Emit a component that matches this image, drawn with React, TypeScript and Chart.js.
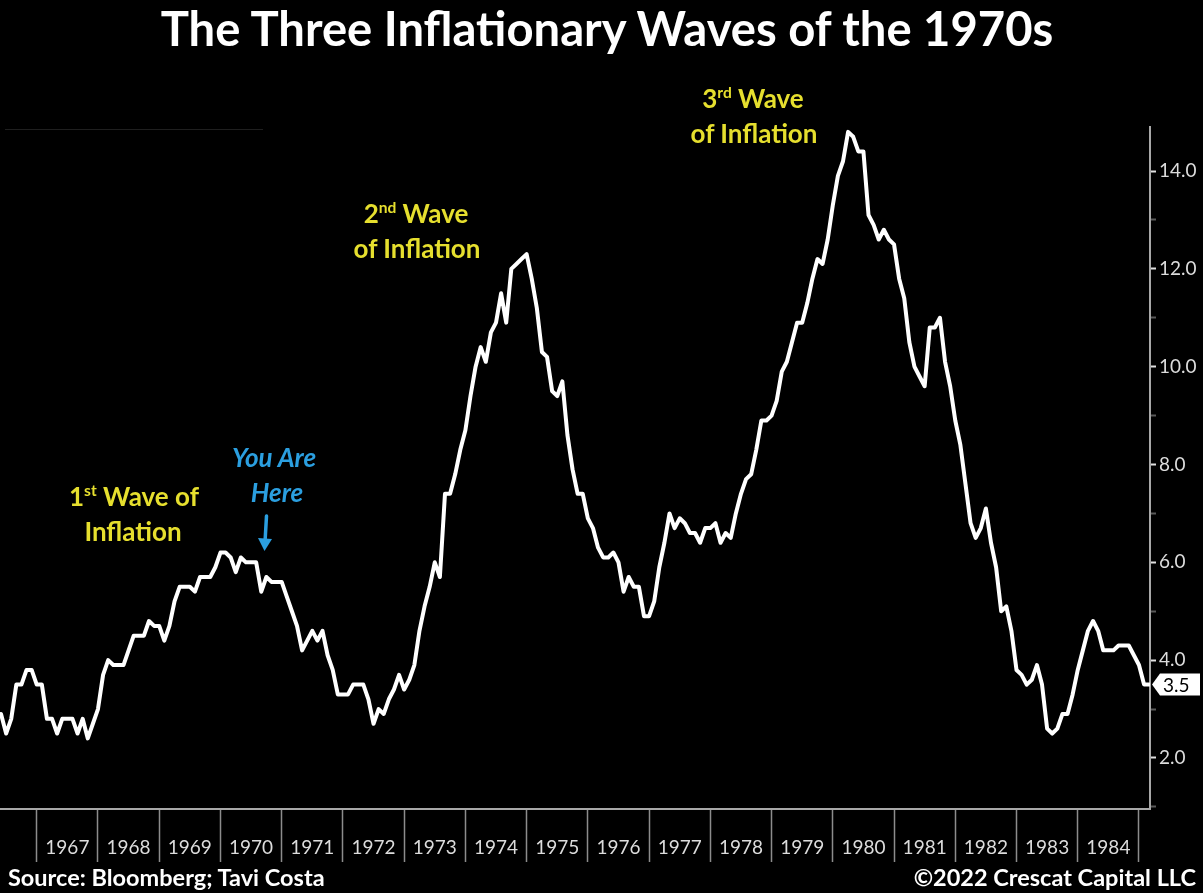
import React, { useEffect, useRef } from "react";
import { Chart, registerables } from "chart.js";

Chart.register(...registerables);

const FONT = "Lato, 'Liberation Sans', sans-serif";

// US CPI YoY %, monthly (series starts May 1966, ends Feb 1985)
const firstYear = 1966;
const firstMonth = 5;
const cpi1966 = [2.9, 2.5, 2.8, 3.5, 3.5, 3.8, 3.8, 3.5];
const cpi1967 = [3.5, 2.8, 2.8, 2.5, 2.8, 2.8, 2.8, 2.5, 2.8, 2.4, 2.7, 3.0];
const cpi1968 = [3.7, 4.0, 3.9, 3.9, 3.9, 4.2, 4.5, 4.5, 4.5, 4.8, 4.7, 4.7];
const cpi1969 = [4.4, 4.7, 5.2, 5.5, 5.5, 5.5, 5.4, 5.7, 5.7, 5.7, 5.9, 6.2];
const cpi1970 = [6.2, 6.1, 5.8, 6.1, 6.0, 6.0, 6.0, 5.4, 5.7, 5.6, 5.6, 5.6];
const cpi1971 = [5.3, 5.0, 4.7, 4.2, 4.4, 4.6, 4.4, 4.6, 4.1, 3.8, 3.3, 3.3];
const cpi1972 = [3.3, 3.5, 3.5, 3.5, 3.2, 2.7, 3.0, 2.9, 3.2, 3.4, 3.7, 3.4];
const cpi1973 = [3.6, 3.9, 4.6, 5.1, 5.5, 6.0, 5.7, 7.4, 7.4, 7.8, 8.3, 8.7];
const cpi1974 = [9.4, 10.0, 10.4, 10.1, 10.7, 10.9, 11.5, 10.9, 12.0, 12.1, 12.2, 12.3];
const cpi1975 = [11.8, 11.2, 10.3, 10.2, 9.5, 9.4, 9.7, 8.6, 7.9, 7.4, 7.4, 6.9];
const cpi1976 = [6.7, 6.3, 6.1, 6.1, 6.2, 6.0, 5.4, 5.7, 5.5, 5.5, 4.9, 4.9];
const cpi1977 = [5.2, 5.9, 6.4, 7.0, 6.7, 6.9, 6.8, 6.6, 6.6, 6.4, 6.7, 6.7];
const cpi1978 = [6.8, 6.4, 6.6, 6.5, 7.0, 7.4, 7.7, 7.8, 8.3, 8.9, 8.9, 9.0];
const cpi1979 = [9.3, 9.9, 10.1, 10.5, 10.9, 10.9, 11.3, 11.8, 12.2, 12.1, 12.6, 13.3];
const cpi1980 = [13.9, 14.2, 14.8, 14.7, 14.4, 14.4, 13.1, 12.9, 12.6, 12.8, 12.6, 12.5];
const cpi1981 = [11.8, 11.4, 10.5, 10.0, 9.8, 9.6, 10.8, 10.8, 11.0, 10.1, 9.6, 8.9];
const cpi1982 = [8.4, 7.6, 6.8, 6.5, 6.7, 7.1, 6.4, 5.9, 5.0, 5.1, 4.6, 3.8];
const cpi1983 = [3.7, 3.5, 3.6, 3.9, 3.5, 2.6, 2.5, 2.6, 2.9, 2.9, 3.3, 3.8];
const cpi1984 = [4.2, 4.6, 4.8, 4.6, 4.2, 4.2, 4.2, 4.3, 4.3, 4.3, 4.1, 3.9];
const cpi1985 = [3.5, 3.5];

const cpiByYear = [
  cpi1966, cpi1967, cpi1968, cpi1969, cpi1970, cpi1971, cpi1972, cpi1973, cpi1974, cpi1975,
  cpi1976, cpi1977, cpi1978, cpi1979, cpi1980, cpi1981, cpi1982, cpi1983, cpi1984, cpi1985,
];

const yearLabels = [
  "1967", "1968", "1969", "1970", "1971", "1972", "1973", "1974", "1975",
  "1976", "1977", "1978", "1979", "1980", "1981", "1982", "1983", "1984",
];
const yTickValues = [1, 2, 3, 4, 5, 6, 7, 8, 9, 10, 11, 12, 13, 14];

function buildPoints() {
  const pts: { x: number; y: number }[] = [];
  cpiByYear.forEach((arr, i) => {
    arr.forEach((v, j) => {
      const month = i === 0 ? firstMonth + j : j + 1;
      pts.push({ x: firstYear + i + month / 12, y: v });
    });
  });
  return pts;
}

const lastValuePlugin = {
  id: "lastValueBox",
  afterDraw(chart: any) {
    const { ctx } = chart;
    const yScale = chart.scales.y;
    const data = chart.data.datasets[0].data as { x: number; y: number }[];
    const v = data[data.length - 1].y;
    const py = yScale.getPixelForValue(v);
    const x0 = yScale.left + 2;
    ctx.save();
    ctx.fillStyle = "#ffffff";
    ctx.beginPath();
    ctx.moveTo(x0, py);
    ctx.lineTo(x0 + 8, py - 11);
    ctx.lineTo(x0 + 48, py - 11);
    ctx.lineTo(x0 + 48, py + 11);
    ctx.lineTo(x0 + 8, py + 11);
    ctx.closePath();
    ctx.fill();
    ctx.fillStyle = "#000000";
    ctx.font = `19px ${FONT}`;
    ctx.textBaseline = "middle";
    ctx.textAlign = "left";
    ctx.fillText(v.toFixed(1), x0 + 11, py + 1);
    ctx.restore();
  },
};

function Line({
  cx,
  baseline,
  size,
  color,
  italic,
  weight = 700,
  children,
}: {
  cx: number;
  baseline: number;
  size: number;
  color: string;
  italic?: boolean;
  weight?: number;
  children: React.ReactNode;
}) {
  return (
    <div
      style={{
        position: "absolute",
        left: cx - 600,
        width: 1200,
        top: baseline - size * 0.887,
        fontSize: size,
        lineHeight: `${size}px`,
        height: size,
        fontFamily: FONT,
        fontWeight: weight,
        fontStyle: italic ? "italic" : "normal",
        color,
        textAlign: "center",
        whiteSpace: "nowrap",
      }}
    >
      {children}
    </div>
  );
}

const Sup = ({ children }: { children: React.ReactNode }) => (
  <span style={{ fontSize: "0.6em", position: "relative", top: "-0.65em" }}>{children}</span>
);

const YELLOW = "#e6df2e";
const BLUE = "#2b9fe0";

export default function App() {
  const canvasRef = useRef<HTMLCanvasElement | null>(null);

  useEffect(() => {
    if (!canvasRef.current) return;
    const chart = new Chart(canvasRef.current, {
      type: "line",
      data: {
        datasets: [
          {
            data: buildPoints(),
            borderColor: "#ffffff",
            borderWidth: 4,
            pointRadius: 0,
            tension: 0,
            borderJoinStyle: "round",
            borderCapStyle: "round",
            fill: false,
          },
        ],
      },
      options: {
        animation: false,
        responsive: false,
        devicePixelRatio: 1,
        layout: { padding: { top: 127, left: 0, right: 0, bottom: 0 } },
        plugins: { legend: { display: false }, tooltip: { enabled: false }, title: { display: false } },
        scales: {
          x: {
            type: "linear",
            min: 1966.4,
            max: 1985.18,
            afterFit: (s: any) => {
              s.height = 84;
            },
            afterBuildTicks: (s: any) => {
              const t: { value: number }[] = [];
              for (let yr = 1967; yr <= 1985; yr++) t.push({ value: yr });
              yearLabels.forEach((l) => t.push({ value: Number(l) + 0.5 }));
              t.sort((a, b) => a.value - b.value);
              s.ticks = t;
            },
            border: { display: true, color: "#a8a8a8", width: 2 },
            grid: {
              drawOnChartArea: false,
              drawTicks: true,
              tickLength: 53,
              tickWidth: 1.5,
              tickColor: (ctx: any) =>
                ctx.tick && Number.isInteger(ctx.tick.value) ? "#8c8c8c" : "rgba(0,0,0,0)",
            },
            ticks: {
              autoSkip: false,
              maxRotation: 0,
              minRotation: 0,
              padding: -26,
              color: "#dcdcdc",
              font: { family: FONT, size: 19 },
              callback: (value: any) =>
                Number.isInteger(value) ? "" : yearLabels.find((l) => Number(l) === Math.floor(value)) || "",
            },
          },
          y: {
            position: "right",
            min: 0.957,
            max: 14.9,
            afterFit: (s: any) => {
              s.width = 53;
            },
            afterBuildTicks: (s: any) => {
              s.ticks = yTickValues.map((v) => ({ value: v }));
            },
            border: { display: true, color: "#a8a8a8", width: 2 },
            grid: {
              drawOnChartArea: false,
              drawTicks: true,
              tickLength: 6,
              tickWidth: 2,
              tickColor: (ctx: any) =>
                ctx.tick && ctx.tick.value % 2 === 0 ? "#e0e0e0" : "#5a5a5a",
            },
            ticks: {
              padding: 3,
              color: "#dcdcdc",
              font: { family: FONT, size: 19 },
              callback: (value: any) => (Number(value) % 2 === 0 ? Number(value).toFixed(1) : ""),
            },
          },
        },
      },
      plugins: [lastValuePlugin],
    } as any);
    return () => chart.destroy();
  }, []);

  const footStyle: React.CSSProperties = {
    position: "absolute",
    top: 887 - 23.5 * 0.887,
    fontSize: 23.5,
    lineHeight: "23.5px",
    fontWeight: 700,
    color: "#ffffff",
    whiteSpace: "nowrap",
  };

  return (
    <div
      style={{
        position: "fixed",
        left: 0,
        top: 0,
        width: 1203,
        height: 893,
        background: "#000000",
        overflow: "hidden",
        fontFamily: FONT,
      }}
    >
      <canvas
        ref={canvasRef}
        width={1203}
        height={893}
        style={{ position: "absolute", left: 0, top: 0, width: 1203, height: 893 }}
      />
      <div
        style={{ position: "absolute", left: 5, top: 129, width: 258, height: 1, background: "#1f1f1f" }}
      />
      <Line cx={607} baseline={46} size={47.2} color="#ffffff">
        The Three Inflationary Waves of the 1970s
      </Line>

      <Line cx={134} baseline={506} size={26} color={YELLOW}>
        1<Sup>st</Sup> Wave of
      </Line>
      <Line cx={133} baseline={541} size={26} color={YELLOW}>
        Inflation
      </Line>

      <Line cx={274} baseline={467} size={26} color={BLUE} italic>
        You Are
      </Line>
      <Line cx={277} baseline={502} size={26} color={BLUE} italic>
        Here
      </Line>
      <svg
        width={20}
        height={40}
        style={{ position: "absolute", left: 255, top: 514 }}
        viewBox="0 0 20 40"
      >
        <line x1={11.5} y1={2} x2={10} y2={28} stroke={BLUE} strokeWidth={3.5} strokeLinecap="round" />
        <polygon points="3,24 17,25 9.5,37" fill={BLUE} />
      </svg>

      <Line cx={416} baseline={223} size={26} color={YELLOW}>
        2<Sup>nd</Sup> Wave
      </Line>
      <Line cx={417} baseline={258} size={26} color={YELLOW}>
        of Inflation
      </Line>

      <Line cx={753} baseline={108} size={26} color={YELLOW}>
        3<Sup>rd</Sup> Wave
      </Line>
      <Line cx={754} baseline={143} size={26} color={YELLOW}>
        of Inflation
      </Line>

      <div style={{ ...footStyle, left: 8 }}>Source: Bloomberg; Tavi Costa</div>
      <div style={{ ...footStyle, right: 7 }}>©2022 Crescat Capital LLC</div>
    </div>
  );
}
